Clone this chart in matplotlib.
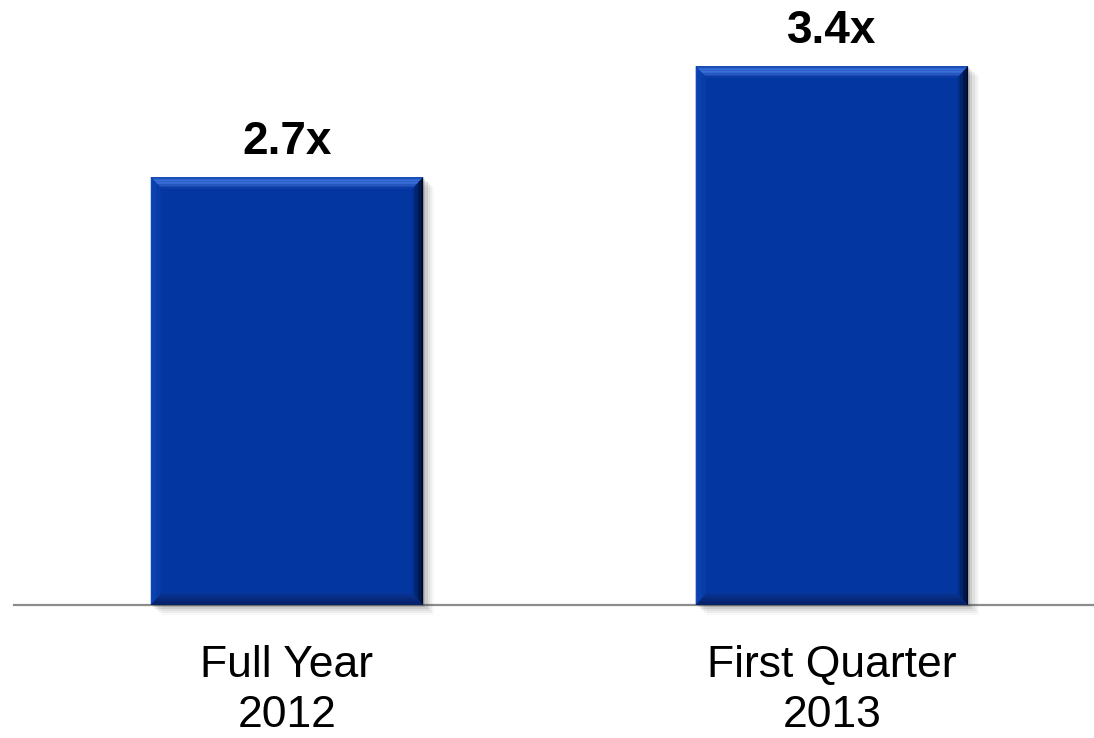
import matplotlib
matplotlib.use("Agg")
import matplotlib.pyplot as plt
from matplotlib.patches import Polygon, Rectangle

# data
categories = ["Full Year\n2012", "First Quarter\n2013"]
values = [2.7, 3.4]
labels = ["2.7x", "3.4x"]

BAR_COLOR = "#0336A0"

fig = plt.figure(figsize=(10.94, 7.38), dpi=100)
ax = fig.add_axes([14 / 1094, 133 / 738, 1080 / 1094, 605 / 738])

x = list(range(len(categories)))
bars = ax.bar(x, values, width=0.5, color=BAR_COLOR, zorder=3)

ax.set_xlim(-0.501, 1.481)
ax.set_ylim(0, 3.817)

# bevel + shadow for each bar
bx = 0.02    # bevel width in x units
by = 0.075   # bevel height in y units
n = 8
for k, b in enumerate(bars):
    x0, w, h = b.get_x(), b.get_width(), b.get_height()
    x1 = x0 + w
    # soft shadow to the right / below
    for i, a in enumerate([0.14, 0.10, 0.07, 0.05, 0.03]):
        dx = 0.004 * (i + 1)
        dy = 0.013 * (i + 1)
        ax.add_patch(Rectangle((x0 + dx, -dy), w, h, color="#303030",
                               alpha=a, lw=0, zorder=2, clip_on=False))
    # top bevel (light)
    top_cols = ["#1E4EB8", "#2C62CC", "#3A70D8", "#3A70D8", "#346AD2",
                "#2A5CC4", "#1A48B2", "#0C3CA6"]
    for i in range(n):
        f0, f1 = i / n, (i + 1) / n
        ax.add_patch(Polygon([(x0 + bx * f0, h - by * f0), (x1 - bx * f0, h - by * f0),
                              (x1 - bx * f1, h - by * f1), (x0 + bx * f1, h - by * f1)],
                             closed=True, color=top_cols[i], lw=0, zorder=4))
    # left bevel
    for i in range(n):
        f0, f1 = i / n, (i + 1) / n
        c = (0.06 - 0.04 * f0, 0.28 - 0.06 * f0, 0.72 - 0.08 * f0)
        ax.add_patch(Polygon([(x0 + bx * f0, by * f0), (x0 + bx * f0, h - by * f0),
                              (x0 + bx * f1, h - by * f1), (x0 + bx * f1, by * f1)],
                             closed=True, color=c, lw=0, zorder=4))
    # bottom bevel (darker)
    for i in range(n):
        f0, f1 = i / n, (i + 1) / n
        c = (0.03 + 0.0 * f0, 0.12 + 0.09 * f0, 0.38 + 0.22 * f0)
        ax.add_patch(Polygon([(x0 + bx * f0, by * f0), (x1 - bx * f0, by * f0),
                              (x1 - bx * f1, by * f1), (x0 + bx * f1, by * f1)],
                             closed=True, color=c, lw=0, zorder=4))
    # right bevel (dark gradient)
    for i in range(n):
        f0, f1 = i / n, (i + 1) / n
        c = (0.0 + 0.01 * f0, 0.03 + 0.18 * f0, 0.12 + 0.5 * f0)
        ax.add_patch(Polygon([(x1 - bx * f0, by * f0), (x1 - bx * f0, h - by * f0),
                              (x1 - bx * f1, h - by * f1), (x1 - bx * f1, by * f1)],
                             closed=True, color=c, lw=0, zorder=4))
    ax.text(x0 + w / 2, h + 0.085, labels[k], ha="center",
            va="bottom", fontsize=33, fontweight="bold",
            family=["Liberation Sans", "DejaVu Sans"])

for s in ["top", "right", "left"]:
    ax.spines[s].set_visible(False)
ax.spines["bottom"].set_color("#8C8C8C")
ax.spines["bottom"].set_linewidth(1.6)
ax.spines["bottom"].set_zorder(1)
ax.set_yticks([])
ax.set_xticks(x)
ax.set_xticklabels(categories, fontsize=32, linespacing=1.28,
                   family=["Liberation Sans", "DejaVu Sans"])
ax.tick_params(axis="x", length=0, pad=29)

fig.savefig("out.png", dpi=100)
